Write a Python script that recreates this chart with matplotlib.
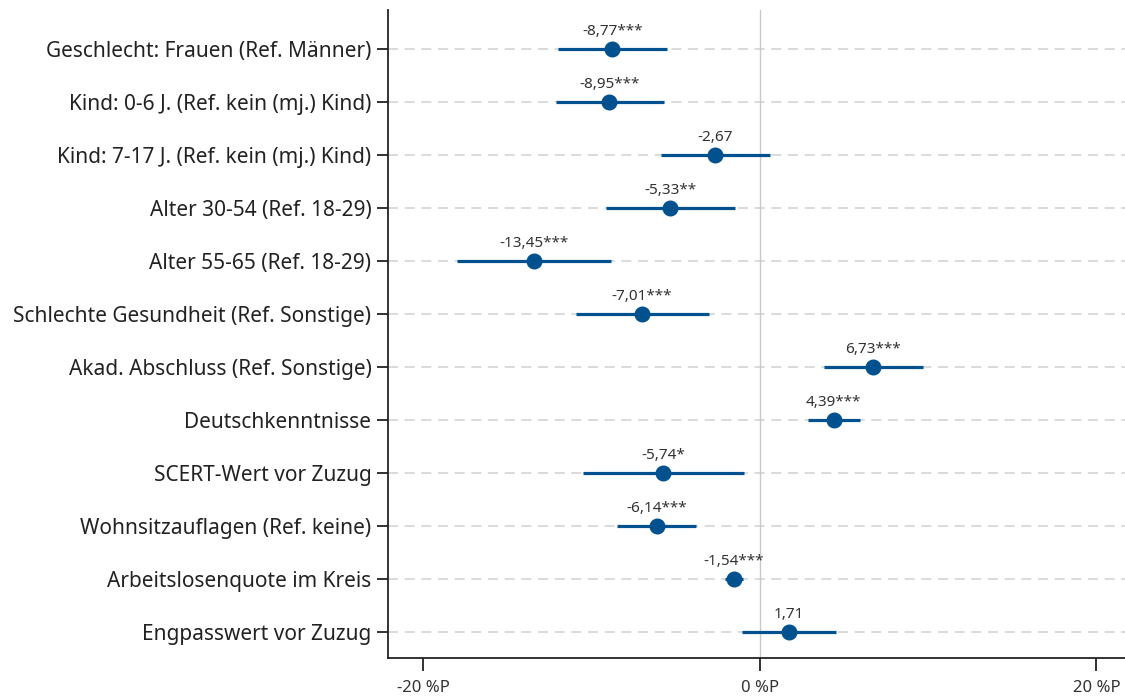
import matplotlib
matplotlib.use("Agg")
import matplotlib.pyplot as plt

categories = [
    "Geschlecht: Frauen (Ref. Männer)",
    "Kind: 0-6 J. (Ref. kein (mj.) Kind)",
    "Kind: 7-17 J. (Ref. kein (mj.) Kind)",
    "Alter 30-54 (Ref. 18-29)",
    "Alter 55-65 (Ref. 18-29)",
    "Schlechte Gesundheit (Ref. Sonstige)",
    "Akad. Abschluss (Ref. Sonstige)",
    "Deutschkenntnisse",
    "SCERT-Wert vor Zuzug",
    "Wohnsitzauflagen (Ref. keine)",
    "Arbeitslosenquote im Kreis",
    "Engpasswert vor Zuzug",
]
estimates = [-8.77, -8.95, -2.67, -5.33, -13.45, -7.01, 6.73, 4.39, -5.74, -6.14, -1.54, 1.71]
ci_low = [-11.99, -12.14, -5.90, -9.14, -18.01, -10.95, 3.78, 2.85, -10.51, -8.48, -2.05, -1.09]
ci_high = [-5.52, -5.70, 0.58, -1.47, -8.84, -3.03, 9.67, 5.92, -0.96, -3.78, -1.03, 4.52]
stars = ["***", "***", "", "**", "***", "***", "***", "***", "*", "***", "***", ""]
xticks = [-20, 0, 20]
xticklabels = ["-20 %P", "0 %P", "20 %P"]

plt.rcParams['font.family'] = ['Noto Sans', 'DejaVu Sans']
blue = "#00518E"

fig = plt.figure(figsize=(11.25, 7), dpi=100)
ax = fig.add_axes([0.345, 0.06, 0.655, 0.9257])

ypos = list(range(len(categories)))
for y in ypos:
    ax.axhline(y, color="#d4d4d4", lw=1.2, ls=(0, (6, 4)), zorder=0)
ax.axvline(0, color="#c8c8c8", lw=1.0, zorder=0)

ax.hlines(ypos, ci_low, ci_high, color=blue, lw=2.3, zorder=2)
ax.plot(estimates, ypos, "o", color=blue, ms=10.5, zorder=3)

for y, v, s in zip(ypos, estimates, stars):
    txt = f"{v:.2f}".replace(".", ",") + s
    ax.annotate(txt, (v, y), xytext=(0, 7), textcoords="offset points",
                ha="center", va="bottom", fontsize=11, color="#333333")

ax.set_yticks(ypos)
ax.set_yticklabels(categories, fontsize=15, color="#222222")
ax.set_ylim(11.5, -0.73)
ax.set_xlim(-22.1, 21.7)
ax.set_xticks(xticks)
ax.set_xticklabels(xticklabels, fontsize=12, color="#333333")

for side in ["top", "right"]:
    ax.spines[side].set_visible(False)
ax.spines["left"].set_linewidth(1.3)
ax.spines["bottom"].set_linewidth(1.3)
ax.spines["left"].set_color("#222222")
ax.spines["bottom"].set_color("#222222")
ax.tick_params(axis="y", length=8, width=1.3, color="#222222", pad=4)
ax.tick_params(axis="x", length=9, width=1.3, color="#222222", pad=7)

fig.savefig("out.png", dpi=100)
